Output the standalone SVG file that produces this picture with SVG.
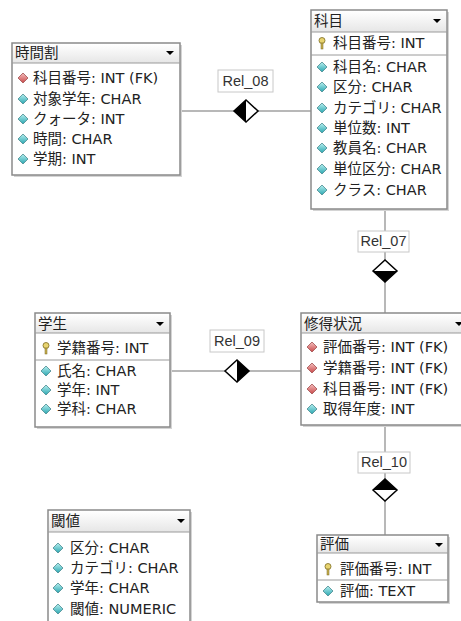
<svg xmlns="http://www.w3.org/2000/svg" width="461" height="621" viewBox="0 0 461 621">
<style>
text{font-family:"DejaVu Sans","Noto Sans CJK JP",sans-serif;font-size:14.5px;fill:#222}
.h{font-size:14.5px}
.box{fill:#fff;stroke:#8a8a8a;stroke-width:1.5}
.shadow{fill:#d4d4d4}
.hdr{fill:url(#hg)}
.sep{stroke:#9a9a9a;stroke-width:1}
.conn{stroke:#a0a0a0;stroke-width:1.5;fill:none}
.lbl{fill:#fff;stroke:#c8c8c8;stroke-width:1}
.lt{font-family:"Liberation Sans",sans-serif;font-size:14.5px;fill:#333;text-anchor:middle}
.dm{stroke:#000;stroke-width:1.5}
</style>
<defs>
<linearGradient id="hg" x1="0" y1="0" x2="0" y2="1"><stop offset="0" stop-color="#ffffff"/><stop offset="1" stop-color="#e6e6e6"/></linearGradient>
<linearGradient id="cg" x1="0" y1="0" x2="0" y2="1"><stop offset="0" stop-color="#b8f0f0"/><stop offset="1" stop-color="#2aa6b0"/></linearGradient>
<linearGradient id="rg" x1="0" y1="0" x2="0" y2="1"><stop offset="0" stop-color="#f6c0c0"/><stop offset="1" stop-color="#c84848"/></linearGradient>
<g id="ci"><path d="M0,-5 L5,0 L0,5 L-5,0 Z" fill="url(#cg)" stroke="#4a8a90" stroke-width="0.8"/></g>
<g id="ri"><path d="M0,-5 L5,0 L0,5 L-5,0 Z" fill="url(#rg)" stroke="#a05050" stroke-width="0.8"/></g>
<g id="ki"><circle cx="0" cy="-2.5" r="3" fill="#e8d470" stroke="#7a6a20" stroke-width="0.8"/><rect x="-1" y="0" width="2" height="6" fill="#c8b050" stroke="#7a6a20" stroke-width="0.5"/></g>
<path id="dd" d="M-4,-2 L4,-2 L0,2 Z" fill="#000"/>
</defs>

<g id="connectors">
<g id="rel08"><line class="conn" x1="180" y1="111" x2="311" y2="111"/><rect class="lbl" x="218" y="70" width="55" height="22"/><text class="lt" x="245.5" y="86">Rel_08</text><path class="dm" d="M234,111 L246,100 L258,111 L246,122 Z" fill="#fff"/><path d="M234,111 L246,100 L246,122 Z" fill="#000"/></g>
<g id="rel07"><line class="conn" x1="385" y1="209" x2="385" y2="313"/><rect class="lbl" x="358" y="231" width="51" height="21"/><text class="lt" x="383.5" y="246">Rel_07</text><path class="dm" d="M373,271 L385,260 L397,271 L385,282 Z" fill="#fff"/><path d="M373,271 L397,271 L385,282 Z" fill="#000"/></g>
<g id="rel09"><line class="conn" x1="170" y1="371" x2="301" y2="371"/><rect class="lbl" x="210" y="330" width="54" height="22"/><text class="lt" x="237" y="346">Rel_09</text><path class="dm" d="M225,371 L237,360 L249,371 L237,382 Z" fill="#fff"/><path d="M237,360 L249,371 L237,382 Z" fill="#000"/></g>
<g id="rel10"><line class="conn" x1="385" y1="425" x2="385" y2="535"/><rect class="lbl" x="358" y="452" width="52" height="21"/><text class="lt" x="384" y="467">Rel_10</text><path class="dm" d="M373,490 L385,479 L397,490 L385,501 Z" fill="#fff"/><path d="M373,490 L385,479 L397,490 Z" fill="#000"/></g>
</g>

<g id="jikanwari">
<rect class="shadow" x="14" y="45" width="168" height="132"/>
<rect class="box" x="12" y="43" width="168" height="132"/>
<rect class="hdr" x="13" y="44" width="166" height="19"/>
<line class="sep" x1="12" y1="63" x2="180" y2="63"/>
<text class="h" x="15" y="58">時間割</text><use href="#dd" x="170" y="53"/>
<use href="#ri" x="23" y="78"/><text x="33" y="83">科目番号: INT (FK)</text>
<use href="#ci" x="23" y="99"/><text x="33" y="104">対象学年: CHAR</text>
<use href="#ci" x="23" y="119"/><text x="33" y="124">クォータ: INT</text>
<use href="#ci" x="23" y="139"/><text x="33" y="144">時間: CHAR</text>
<use href="#ci" x="23" y="159"/><text x="33" y="164">学期: INT</text>
</g>

<g id="kamoku">
<rect class="shadow" x="313" y="12" width="136" height="199"/>
<rect class="box" x="311" y="10" width="136" height="199"/>
<rect class="hdr" x="312" y="11" width="134" height="21"/>
<line class="sep" x1="311" y1="32" x2="447" y2="32"/>
<text class="h" x="314" y="26">科目</text><use href="#dd" x="437" y="21"/>
<use href="#ki" x="322" y="43"/><text x="333" y="48">科目番号: INT</text>
<line class="sep" x1="311" y1="55" x2="447" y2="55"/>
<use href="#ci" x="322" y="67"/><text x="333" y="72">科目名: CHAR</text>
<use href="#ci" x="322" y="87"/><text x="333" y="92">区分: CHAR</text>
<use href="#ci" x="322" y="108"/><text x="333" y="113">カテゴリ: CHAR</text>
<use href="#ci" x="322" y="128"/><text x="333" y="133">単位数: INT</text>
<use href="#ci" x="322" y="148"/><text x="333" y="153">教員名: CHAR</text>
<use href="#ci" x="322" y="169"/><text x="333" y="174">単位区分: CHAR</text>
<use href="#ci" x="322" y="190"/><text x="333" y="195">クラス: CHAR</text>
</g>

<g id="shutoku">
<rect class="shadow" x="303" y="315" width="162" height="112"/>
<rect class="box" x="301" y="313" width="162" height="112"/>
<rect class="hdr" x="302" y="314" width="160" height="19"/>
<line class="sep" x1="301" y1="333" x2="463" y2="333"/>
<text class="h" x="304" y="329">修得状況</text><use href="#dd" x="459" y="324"/>
<use href="#ri" x="312" y="347"/><text x="323" y="352">評価番号: INT (FK)</text>
<use href="#ri" x="312" y="368"/><text x="323" y="373">学籍番号: INT (FK)</text>
<use href="#ri" x="312" y="389"/><text x="323" y="394">科目番号: INT (FK)</text>
<use href="#ci" x="312" y="409"/><text x="323" y="414">取得年度: INT</text>
</g>

<g id="gakusei">
<rect class="shadow" x="37" y="315" width="135" height="114"/>
<rect class="box" x="35" y="313" width="135" height="114"/>
<rect class="hdr" x="36" y="314" width="133" height="19"/>
<line class="sep" x1="35" y1="333" x2="170" y2="333"/>
<text class="h" x="38" y="329">学生</text><use href="#dd" x="160" y="324"/>
<use href="#ki" x="46" y="348"/><text x="57" y="353">学籍番号: INT</text>
<line class="sep" x1="35" y1="360" x2="170" y2="360"/>
<use href="#ci" x="46" y="371"/><text x="57" y="376">氏名: CHAR</text>
<use href="#ci" x="46" y="390"/><text x="57" y="395">学年: INT</text>
<use href="#ci" x="46" y="409"/><text x="57" y="414">学科: CHAR</text>
</g>

<g id="hyoka">
<rect class="shadow" x="319" y="537" width="131" height="67"/>
<rect class="box" x="317" y="535" width="131" height="67"/>
<rect class="hdr" x="318" y="536" width="129" height="17"/>
<line class="sep" x1="317" y1="553" x2="448" y2="553"/>
<text class="h" x="320" y="549">評価</text><use href="#dd" x="439" y="545"/>
<use href="#ki" x="328" y="569"/><text x="340" y="574">評価番号: INT</text>
<line class="sep" x1="317" y1="580" x2="448" y2="580"/>
<use href="#ci" x="328" y="591"/><text x="340" y="596">評価: TEXT</text>
</g>

<g id="shikiichi">
<rect class="shadow" x="50" y="512" width="142" height="120"/>
<rect class="box" x="48" y="510" width="142" height="120"/>
<rect class="hdr" x="49" y="511" width="140" height="21"/>
<line class="sep" x1="48" y1="532" x2="190" y2="532"/>
<text class="h" x="51" y="526">閾値</text><use href="#dd" x="181" y="521"/>
<use href="#ci" x="58" y="548"/><text x="70" y="553">区分: CHAR</text>
<use href="#ci" x="58" y="568"/><text x="70" y="573">カテゴリ: CHAR</text>
<use href="#ci" x="58" y="588"/><text x="70" y="593">学年: CHAR</text>
<use href="#ci" x="58" y="609"/><text x="70" y="614">閾値: NUMERIC</text>
</g>
</svg>
